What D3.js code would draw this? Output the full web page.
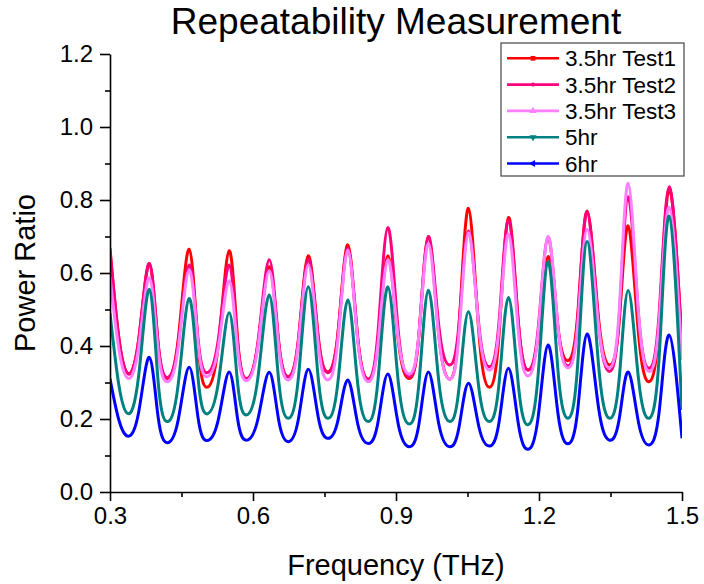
<!DOCTYPE html>
<html lang="en">
<head>
    <meta charset="UTF-8">
    <title>Repeatability Measurement</title>
    <script src="https://cdn.jsdelivr.net/npm/d3@7"></script>
</head>
<style>
    body { margin: 0; background: #fff; }
    svg { font-family: "Liberation Sans", Arial, sans-serif; }
</style>
<body>
<script>
    // frequency samples (THz): peaks, troughs and the flanks between them
    const freq = [0.300,
        0.318, 0.337, 0.360, 0.3825,
        0.401, 0.420, 0.443, 0.466,
        0.485, 0.503, 0.527, 0.550,
        0.568, 0.586, 0.610, 0.634,
        0.654, 0.674, 0.695, 0.716,
        0.737, 0.757, 0.778, 0.799,
        0.820, 0.842, 0.862, 0.883,
        0.905, 0.928, 0.948, 0.968,
        0.990, 1.013, 1.032, 1.052,
        1.074, 1.096, 1.116, 1.136,
        1.157, 1.177, 1.198, 1.219,
        1.240, 1.261, 1.281, 1.301,
        1.325, 1.348, 1.368, 1.387,
        1.409, 1.431, 1.452, 1.473,
        1.500];

    const test1 = [0.668,
        0.428, 0.325, 0.415, 0.626, 0.405, 0.311, 0.417, 0.665,
        0.400, 0.287, 0.399, 0.661, 0.415, 0.309, 0.401, 0.617,
        0.406, 0.316, 0.415, 0.647, 0.424, 0.329, 0.433, 0.677,
        0.419, 0.309, 0.410, 0.647, 0.412, 0.311, 0.428, 0.700,
        0.427, 0.309, 0.449, 0.777, 0.434, 0.287, 0.427, 0.752,
        0.460, 0.334, 0.428, 0.645, 0.446, 0.360, 0.483, 0.770,
        0.475, 0.348, 0.462, 0.729, 0.430, 0.302, 0.460, 0.830,
        0.407];

    const test2 = [0.660,
        0.426, 0.325, 0.415, 0.626, 0.408, 0.314, 0.406, 0.622,
        0.416, 0.327, 0.416, 0.622, 0.405, 0.311, 0.408, 0.636,
        0.412, 0.316, 0.412, 0.637, 0.420, 0.327, 0.429, 0.668,
        0.417, 0.309, 0.434, 0.725, 0.438, 0.315, 0.431, 0.700,
        0.453, 0.348, 0.458, 0.715, 0.455, 0.343, 0.464, 0.745,
        0.458, 0.334, 0.444, 0.698, 0.451, 0.345, 0.472, 0.768,
        0.462, 0.330, 0.474, 0.809, 0.482, 0.339, 0.488, 0.836,
        0.400];

    const test3 = [0.590,
        0.396, 0.312, 0.395, 0.587, 0.388, 0.302, 0.394, 0.608,
        0.404, 0.316, 0.395, 0.579, 0.388, 0.305, 0.395, 0.606,
        0.397, 0.307, 0.402, 0.622, 0.402, 0.307, 0.414, 0.663,
        0.410, 0.302, 0.403, 0.636, 0.417, 0.323, 0.430, 0.681,
        0.422, 0.309, 0.429, 0.710, 0.447, 0.334, 0.446, 0.707,
        0.434, 0.318, 0.433, 0.700, 0.448, 0.340, 0.454, 0.720,
        0.454, 0.340, 0.492, 0.846, 0.485, 0.330, 0.465, 0.780,
        0.362];

    const hr5 = [0.490,
        0.298, 0.215, 0.317, 0.555, 0.302, 0.193, 0.294, 0.530,
        0.309, 0.214, 0.297, 0.491, 0.295, 0.211, 0.310, 0.540,
        0.304, 0.202, 0.310, 0.562, 0.310, 0.202, 0.299, 0.526,
        0.293, 0.193, 0.304, 0.562, 0.299, 0.186, 0.296, 0.553,
        0.301, 0.193, 0.283, 0.494, 0.283, 0.193, 0.295, 0.533,
        0.289, 0.184, 0.318, 0.631, 0.330, 0.202, 0.347, 0.686,
        0.347, 0.202, 0.307, 0.552, 0.307, 0.202, 0.368, 0.756,
        0.225];

    const hr6 = [0.310,
        0.200, 0.153, 0.218, 0.369, 0.205, 0.135, 0.197, 0.342,
        0.201, 0.141, 0.197, 0.329, 0.198, 0.142, 0.198, 0.328,
        0.196, 0.138, 0.198, 0.336, 0.204, 0.147, 0.195, 0.307,
        0.185, 0.133, 0.190, 0.323, 0.184, 0.124, 0.185, 0.329,
        0.185, 0.124, 0.176, 0.298, 0.178, 0.126, 0.190, 0.339,
        0.184, 0.117, 0.203, 0.403, 0.213, 0.132, 0.222, 0.433,
        0.230, 0.142, 0.198, 0.329, 0.189, 0.129, 0.219, 0.430,
        0.147];

    const seriesNames = ["3.5hr Test1", "3.5hr Test2", "3.5hr Test3", "5hr", "6hr"];
    const seriesValues = [test1, test2, test3, hr5, hr6];
    const seriesColors = ["#ff0000", "#ff0080", "#ff80ff", "#008080", "#0000ff"];
    const seriesMarkers = [d3.symbolSquare, d3.symbolCircle, d3.symbolTriangle, "down", "left"];

    const xTicks = [0.3, 0.6, 0.9, 1.2, 1.5];
    const yTicks = [0.0, 0.2, 0.4, 0.6, 0.8, 1.0, 1.2];

    const width = 704, height = 584;
    const plotL = 110, plotR = 682, plotT = 54, plotB = 492;

    const svg = d3.select("body")
            .append("svg")
            .attr("width", width)
            .attr("height", height);

    const x = d3.scaleLinear().domain([0.3, 1.5]).range([plotL, plotR]);
    const y = d3.scaleLinear().domain([0, 1.2]).range([plotB, plotT]);

    svg.append("defs").append("clipPath").attr("id", "plot")
            .append("rect")
            .attr("x", plotL).attr("y", plotT - 5)
            .attr("width", plotR - plotL).attr("height", plotB - plotT + 5);

    // lines
    const line = d3.line()
            .x((d, i) => x(freq[i]))
            .y(d => y(d))
            .curve(d3.curveNatural);

    svg.append("g")
            .attr("clip-path", "url(#plot)")
            .selectAll("path")
            .data(seriesValues)
            .join("path")
            .attr("d", line)
            .attr("fill", "none")
            .attr("stroke", (d, i) => seriesColors[i])
            .attr("stroke-width", 3)
            .attr("stroke-linejoin", "round");

    // axes
    const isMajor = (ticks, d) => ticks.some(t => Math.abs(t - d) < 1e-6);

    const xAxis = d3.axisBottom(x)
            .tickValues(d3.range(0.3, 1.501, 0.15))
            .tickFormat(d => isMajor(xTicks, d) ? d3.format(".1f")(d) : "")
            .tickSizeOuter(0);
    const gx = svg.append("g")
            .attr("transform", `translate(0,${plotB})`)
            .call(xAxis);
    gx.selectAll(".tick line")
            .attr("y2", d => isMajor(xTicks, d) ? 9 : 5);
    gx.selectAll(".tick text")
            .attr("y", 15)
            .attr("font-size", 24)
            .attr("font-family", "Liberation Sans, Arial, sans-serif");

    const yAxis = d3.axisLeft(y)
            .tickValues(d3.range(0, 1.201, 0.1))
            .tickFormat(d => isMajor(yTicks, d) ? d3.format(".1f")(d) : "")
            .tickSizeOuter(0);
    const gy = svg.append("g")
            .attr("transform", `translate(${plotL},0)`)
            .call(yAxis);
    gy.selectAll(".tick line")
            .attr("x2", d => isMajor(yTicks, d) ? -10 : -5);
    gy.selectAll(".tick text")
            .attr("x", -17)
            .attr("font-size", 24)
            .attr("font-family", "Liberation Sans, Arial, sans-serif");

    svg.selectAll(".domain, .tick line")
            .attr("stroke", "#000")
            .attr("stroke-width", 1.6);

    // titles
    svg.append("text")
            .attr("x", (plotL + plotR) / 2)
            .attr("y", 34)
            .attr("text-anchor", "middle")
            .attr("font-size", 37)
            .text("Repeatability Measurement");

    svg.append("text")
            .attr("x", (plotL + plotR) / 2)
            .attr("y", 575)
            .attr("text-anchor", "middle")
            .attr("font-size", 29)
            .text("Frequency (THz)");

    svg.append("text")
            .attr("transform", `translate(35,${(plotT + plotB) / 2}) rotate(-90)`)
            .attr("text-anchor", "middle")
            .attr("font-size", 29)
            .text("Power Ratio");

    // legend
    const legend = svg.append("g");
    legend.append("rect")
            .attr("x", 501).attr("y", 43)
            .attr("width", 183).attr("height", 133)
            .attr("fill", "#fff")
            .attr("stroke", "#444")
            .attr("stroke-width", 1.2);

    const rows = legend.selectAll("g.row")
            .data(seriesNames)
            .join("g")
            .attr("class", "row")
            .attr("transform", (d, i) => `translate(0,${58.3 + i * 26.3})`);

    rows.append("line")
            .attr("x1", 507).attr("x2", 559)
            .attr("stroke", (d, i) => seriesColors[i])
            .attr("stroke-width", 2.6);

    rows.append("path")
            .attr("transform", (d, i) => {
                const m = seriesMarkers[i];
                const r = m === "down" ? 180 : m === "left" ? -90 : 0;
                return `translate(533,0) rotate(${r})`;
            })
            .attr("d", (d, i) => {
                const m = seriesMarkers[i];
                const type = typeof m === "string" ? d3.symbolTriangle : m;
                return d3.symbol().type(type).size(type === d3.symbolCircle ? 14 : 22)();
            })
            .attr("fill", (d, i) => seriesColors[i]);

    rows.append("text")
            .attr("x", 565)
            .attr("dy", "0.36em")
            .attr("font-size", 22.5)
            .text(d => d);
</script>
</body>
</html>
